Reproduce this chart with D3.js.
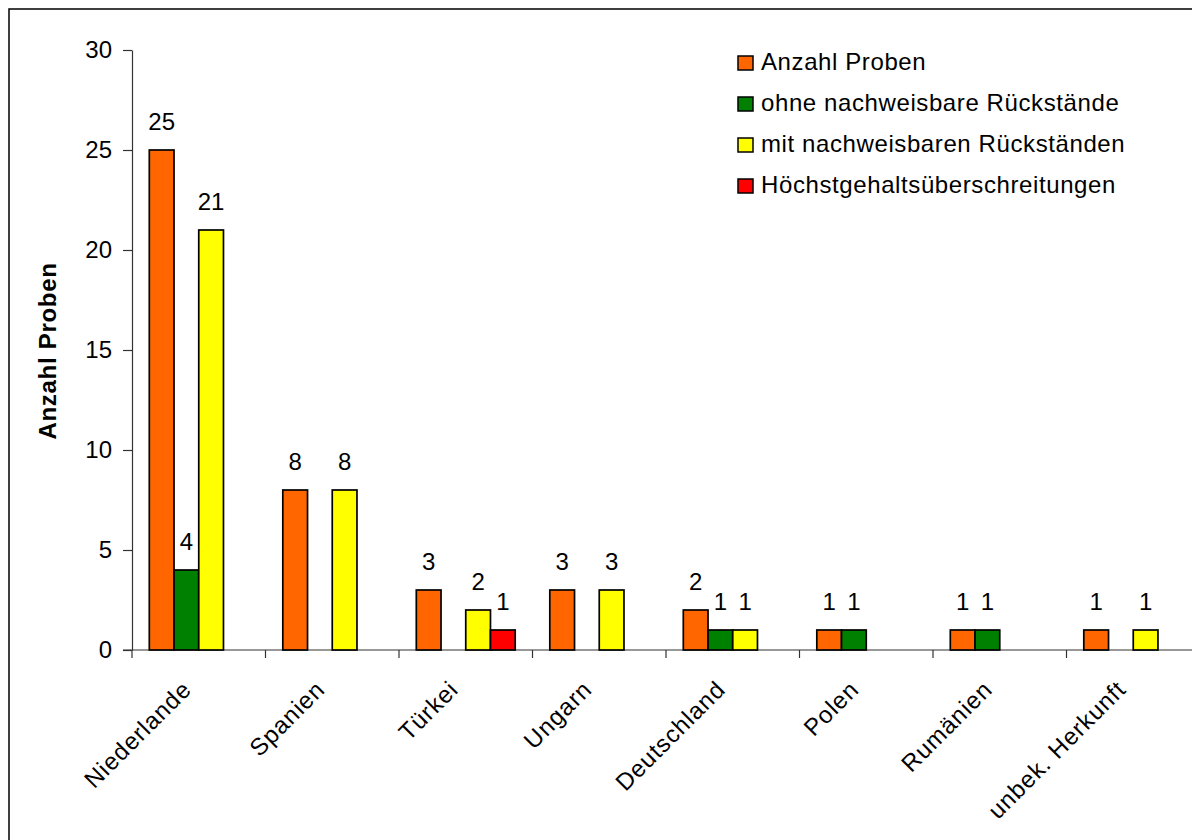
<!DOCTYPE html>
<html>
<head>
<meta charset="utf-8">
<script src="https://cdn.jsdelivr.net/npm/d3@7"></script>
<style>
  html, body { margin: 0; padding: 0; background: #fff; }
  svg { display: block; font-family: "Liberation Sans", Arial, sans-serif; }
</style>
</head>
<body>
<svg id="chart" width="1192" height="840"></svg>
<script>
// Herkunftsländer und Probenzahlen
const categories = ["Niederlande", "Spanien", "Türkei", "Ungarn", "Deutschland", "Polen", "Rumänien", "unbek. Herkunft"];
const seriesNames = ["Anzahl Proben", "ohne nachweisbare Rückstände", "mit nachweisbaren Rückständen", "Höchstgehaltsüberschreitungen"];
const anzahlProben   = [25, 8, 3, 3, 2, 1, 1, 1];
const ohneRueck      = [4, 0, 0, 0, 1, 1, 1, 0];
const mitRueck       = [21, 8, 2, 3, 1, 0, 0, 1];
const hoechstgehalt  = [0, 0, 1, 0, 0, 0, 0, 0];
const seriesColors   = ["#FF6600", "#008000", "#FFFF00", "#FF0000"];
const yTicks = [0, 5, 10, 15, 20, 25, 30];

const seriesValues = [anzahlProben, ohneRueck, mitRueck, hoechstgehalt];

const svg = d3.select("#chart");
const W = 1192, H = 840;

const plotLeft = 132, plotTop = 50, plotBottom = 650;
const groupW = 133.5;

// outer frame
svg.append("rect")
  .attr("x", 9).attr("y", 9)
  .attr("width", W + 20).attr("height", H + 20)
  .attr("fill", "none").attr("stroke", "#000").attr("stroke-width", 1.5);

const x0 = d3.scaleBand()
  .domain(categories)
  .range([plotLeft, plotLeft + groupW * categories.length])
  .paddingInner(0).paddingOuter(0);

const x1 = d3.scaleBand()
  .domain(seriesNames)
  .range([0, x0.bandwidth()])
  .paddingInner(0).paddingOuter(0.7);

const y = d3.scaleLinear().domain([0, 30]).range([plotBottom, plotTop]);

// y axis
const yAxis = svg.append("g")
  .attr("transform", `translate(${plotLeft},0)`)
  .call(d3.axisLeft(y).tickValues(yTicks).tickSize(9).tickPadding(11).tickSizeOuter(0));
yAxis.select(".domain").attr("stroke", "#333").attr("stroke-width", 1.2);
yAxis.selectAll(".tick line").attr("stroke", "#333").attr("stroke-width", 1.2);
yAxis.selectAll(".tick text")
  .attr("font-size", 24).attr("fill", "#000")
  .attr("font-family", "Liberation Sans, Arial, sans-serif");

// x axis
const xAxisLine = svg.append("g");
xAxisLine.append("line")
  .attr("x1", plotLeft - 9).attr("x2", W)
  .attr("y1", y(0)).attr("y2", y(0))
  .attr("stroke", "#333").attr("stroke-width", 1.2);
const xTickPos = d3.range(categories.length + 1).map(i => plotLeft + i * x0.step());
xAxisLine.selectAll("line.xt")
  .data(xTickPos).join("line")
  .attr("class", "xt")
  .attr("x1", d => d).attr("x2", d => d)
  .attr("y1", y(0)).attr("y2", y(0) + 8)
  .attr("stroke", "#333").attr("stroke-width", 1.2);

// category labels
svg.append("g").selectAll("text")
  .data(categories).join("text")
  .attr("transform", d => `translate(${x0(d) + x0.bandwidth() / 2 - 6},691) rotate(-45)`)
  .attr("text-anchor", "end")
  .attr("font-size", 24)
  .attr("letter-spacing", 0.9)
  .attr("fill", "#000")
  .text(d => d);

// bars
const barData = [];
categories.forEach((c, i) => {
  seriesNames.forEach((s, j) => {
    const v = seriesValues[j][i];
    if (v > 0) barData.push({ c, s, v, color: seriesColors[j] });
  });
});

svg.append("g").selectAll("rect")
  .data(barData).join("rect")
  .attr("x", d => x0(d.c) + x1(d.s))
  .attr("y", d => y(d.v))
  .attr("width", x1.bandwidth())
  .attr("height", d => y(0) - y(d.v))
  .attr("fill", d => d.color)
  .attr("stroke", "#000").attr("stroke-width", 1.7);

// value labels
svg.append("g").selectAll("text")
  .data(barData).join("text")
  .attr("x", d => x0(d.c) + x1(d.s) + x1.bandwidth() / 2)
  .attr("y", d => y(d.v) - 20)
  .attr("text-anchor", "middle")
  .attr("font-size", 24)
  .attr("fill", "#000")
  .text(d => d.v);

// y axis title
svg.append("text")
  .attr("transform", "translate(56,351) rotate(-90)")
  .attr("text-anchor", "middle")
  .attr("font-size", 24)
  .attr("font-weight", "bold")
  .attr("letter-spacing", 0.7)
  .attr("fill", "#000")
  .text("Anzahl Proben");

// legend
const legend = svg.append("g");
const legRows = legend.selectAll("g")
  .data(seriesNames).join("g")
  .attr("transform", (d, i) => `translate(738,${70 + i * 41})`);
legRows.append("rect")
  .attr("x", 0).attr("y", -14)
  .attr("width", 15).attr("height", 14)
  .attr("fill", (d, i) => seriesColors[i])
  .attr("stroke", "#000").attr("stroke-width", 1.5);
legRows.append("text")
  .attr("x", 23).attr("y", 0)
  .attr("font-size", 24)
  .attr("letter-spacing", 0.6)
  .attr("fill", "#000")
  .text(d => d);
</script>
</body>
</html>
